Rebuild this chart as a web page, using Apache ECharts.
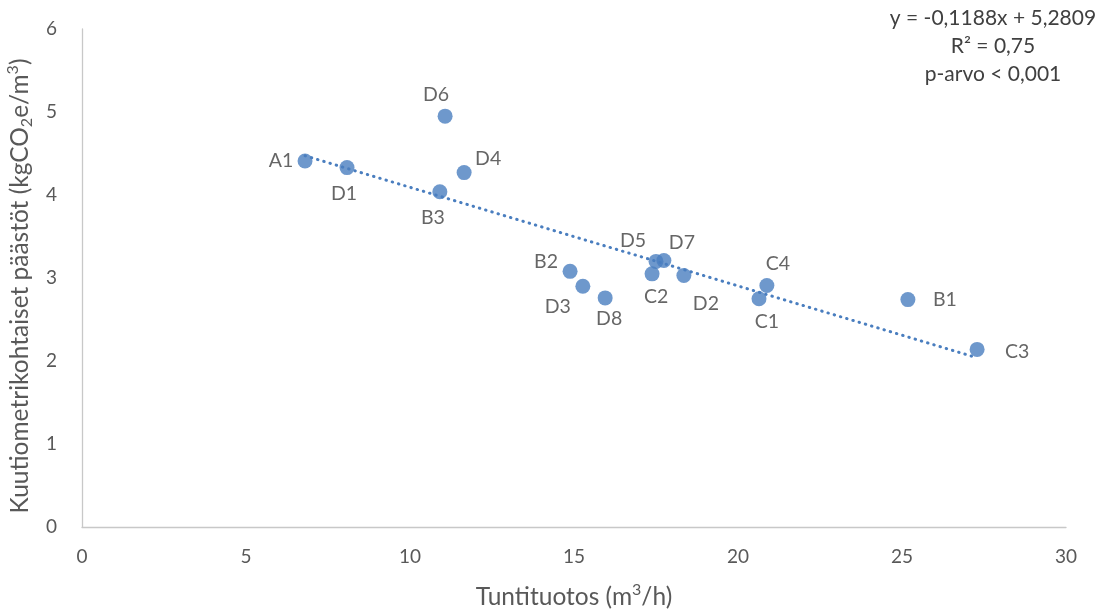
<!DOCTYPE html>
<html>
<head>
<meta charset="utf-8">
<style>
  html, body { margin: 0; padding: 0; background: #fff; }
  #chart { width: 1106px; height: 612px; }
</style>
<script src="https://cdn.jsdelivr.net/npm/echarts@6/dist/echarts.min.js"></script>
</head>
<body>
<div id="chart"></div>
<script>
// Production sites: hourly output (m³/h) vs. emissions per cubic metre (kgCO2e/m³)
const siteNames = ['A1', 'D1', 'B3', 'D6', 'D4', 'B2', 'D3', 'D8', 'C2', 'D5', 'D7', 'D2', 'C1', 'C4', 'B1', 'C3'];
const hourlyOutput = [6.8, 8.08, 10.91, 11.07, 11.65, 14.88, 15.27, 15.95, 17.38, 17.5, 17.74, 18.35, 20.64, 20.88, 25.18, 27.29];
const emissions = [4.41, 4.33, 4.04, 4.95, 4.27, 3.08, 2.90, 2.76, 3.05, 3.20, 3.21, 3.03, 2.75, 2.91, 2.74, 2.14];

// Linear fit y = slope * x + intercept
const slope = -0.1188;
const intercept = 5.2809;
const fitText = ['y = -0,1188x + 5,2809', 'R² = 0,75', 'p-arvo < 0,001'];

const xTicks = [0, 5, 10, 15, 20, 25, 30];
const yTicks = [0, 1, 2, 3, 4, 5, 6];

// Label offsets (px) from each marker centre
const labelOffset = {
  A1: [-24, 0], D1: [-3, 26], B3: [-7, 26], D6: [-9, -21], D4: [24, -14],
  B2: [-24, -10], D3: [-25, 20], D8: [4, 21], C2: [4, 23], D5: [-23, -21],
  D7: [18, -18], D2: [22, 28], C1: [8, 23], C4: [11, -22], B1: [37, 0], C3: [40, 2]
};

const blue = '#4A7EBF';
const textGray = '#404040';
const axisGray = '#595959';
const font = 'Lato, "Open Sans", sans-serif';

const points = siteNames.map((n, i) => ({
  name: n,
  value: [hourlyOutput[i], emissions[i]],
  label: { offset: labelOffset[n] || [0, 0] }
}));

const xMin = Math.min(...hourlyOutput);
const xMax = Math.max(...hourlyOutput);
const trend = [[xMin, slope * xMin + intercept], [xMax, slope * xMax + intercept]];

// Rich-text styles for sub/superscripts in the axis titles
const titleRich = {
  t: { fontFamily: font, fontSize: 24.5, color: axisGray, lineHeight: 30 },
  sub: { fontFamily: font, fontSize: 16, color: axisGray, lineHeight: 30, verticalAlign: 'bottom' },
  sup: { fontFamily: font, fontSize: 16, color: axisGray, lineHeight: 30, verticalAlign: 'top' }
};

const chart = echarts.init(document.getElementById('chart'));
chart.setOption({
  animation: false,
  backgroundColor: '#fff',
  grid: { left: 82, right: 40, top: 29, bottom: 85, containLabel: false, outerBoundsMode: 'none' },
  xAxis: {
    type: 'value',
    min: xTicks[0], max: xTicks[xTicks.length - 1], interval: 5,
    name: '{t|Tuntituotos (m}{sup|3}{t|/h)}',
    nameLocation: 'middle', nameGap: 55,
    nameTextStyle: { rich: titleRich },
    axisLine: { show: true, lineStyle: { color: '#C8C8C8', width: 1.3 } },
    axisTick: { show: false },
    splitLine: { show: false },
    axisLabel: { margin: 20, fontFamily: font, fontSize: 19, color: axisGray }
  },
  yAxis: {
    type: 'value',
    min: yTicks[0], max: yTicks[yTicks.length - 1], interval: 1,
    name: '{t|Kuutiometrikohtaiset päästöt (kgCO}{sub|2}{t|e/m}{sup|3}{t|)}',
    nameLocation: 'middle', nameGap: 44,
    nameTextStyle: { rich: titleRich, padding: [0, 16, 0, 0] },
    axisLine: { show: true, lineStyle: { color: '#C8C8C8', width: 1.3 } },
    axisTick: { show: false },
    splitLine: { show: false },
    axisLabel: { margin: 25, fontFamily: font, fontSize: 19, color: axisGray }
  },
  graphic: [{
    type: 'text',
    x: 993, y: 4,
    style: {
      text: fitText.join('\n'), align: 'center', verticalAlign: 'top',
      lineHeight: 28, fontFamily: font, fontSize: 21, fill: textGray
    },
    z: 10
  }],
  series: [
    {
      type: 'line',
      data: trend,
      symbol: 'none',
      silent: true,
      lineStyle: { color: blue, width: 3, type: [0.5, 6], cap: 'round' },
      z: 3
    },
    {
      type: 'scatter',
      data: points,
      symbol: 'circle',
      symbolSize: 15,
      itemStyle: { color: blue },
      label: {
        show: true,
        position: 'inside',
        formatter: p => p.name,
        fontFamily: font, fontSize: 19.5, color: textGray,
        align: 'center', verticalAlign: 'middle'
      },
      z: 4
    }
  ]
});
</script>
</body>
</html>
